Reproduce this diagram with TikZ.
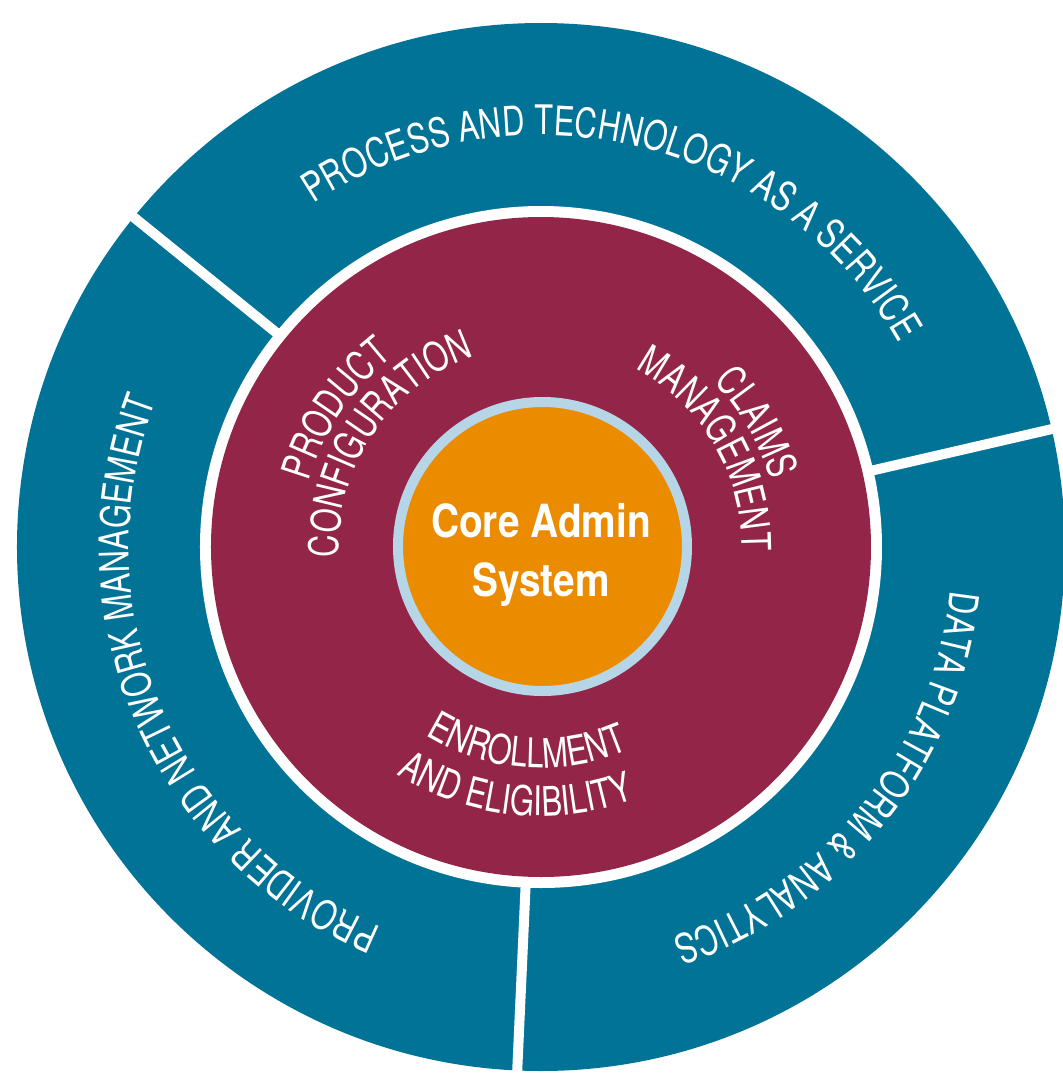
\documentclass[tikz,border=0pt]{standalone}
\usepackage{fontspec}
\usetikzlibrary{decorations.text}
\newfontfamily\labelfont{TeX Gyre Heros}[FakeStretch=0.76]
\newfontfamily\corefont{TeX Gyre Heros}[FakeStretch=0.85]
\definecolor{ringteal}{RGB}{0,115,150}
\definecolor{innerred}{RGB}{147,38,72}
\definecolor{coreorange}{RGB}{235,139,0}
\definecolor{coreblue}{RGB}{182,214,232}

\begin{document}
\begin{tikzpicture}[arctext/.style={decorate, decoration={text along path, text align=center,
                  text={|\labelfont\fontsize{11.6}{13}\selectfont\color{white}|#1}}},
                  gap/.style={white, line width=1mm},
                  core/.style={shape=circle, fill=coreorange, draw=coreblue, line width=1mm,
                  minimum size=28.9mm, inner sep=0pt},
                  coretext/.style={text=white, align=center,
                  font=\corefont\bfseries\fontsize{13}{17}\selectfont}]
              \useasboundingbox (-5.41,-5.26) rectangle (5.22,5.47);
              \fill[ringteal] (0,0) circle (5.24);
              \fill[white] (0,0) circle (3.41);
              \fill[innerred] (0,0) circle (3.30);
              \draw[gap] (141:3.35) -- (141:5.4);
              \draw[gap] (13:3.35) -- (13:5.4);
              \draw[gap] (-92.6:3.35) -- (-92.6:5.4);
              \node[core] (core) at (0.015,0.005) {};
              \node[coretext] (coretitle) at (0.0,-0.08) {Core Admin\\System};
              \path[arctext={PROCESS AND TECHNOLOGY AS A SERVICE}] (141.6:4.12) arc[start angle=141.6, end angle=11.6, radius=4.12];
              \path[arctext={PROVIDER AND NETWORK MANAGEMENT}] (261.2:4.12) arc[start angle=261.2, end angle=145.2, radius=4.12];
              \path[arctext={DATA PLATFORM {\&} ANALYTICS}] (16.2:4.12) arc[start angle=16.2, end angle=-93.8, radius=4.12];
              \path[arctext={PRODUCT}] (196:2.41) arc[start angle=196, end angle=96, radius=2.41];
              \path[arctext={CONFIGURATION}] (201:2.02) arc[start angle=201, end angle=91, radius=2.02];
              \path[arctext={CLAIMS}] (80:2.39) arc[start angle=80, end angle=-20, radius=2.39];
              \path[arctext={MANAGEMENT}] (85:2.01) arc[start angle=85, end angle=-24, radius=2.01];
              \path[arctext={ENROLLMENT}] (-144:2.21) arc[start angle=-144, end angle=-44, radius=2.21];
              \path[arctext={AND ELIGIBILITY}] (-146:2.69) arc[start angle=-146, end angle=-46, radius=2.69];
          \end{tikzpicture}
\end{document}
